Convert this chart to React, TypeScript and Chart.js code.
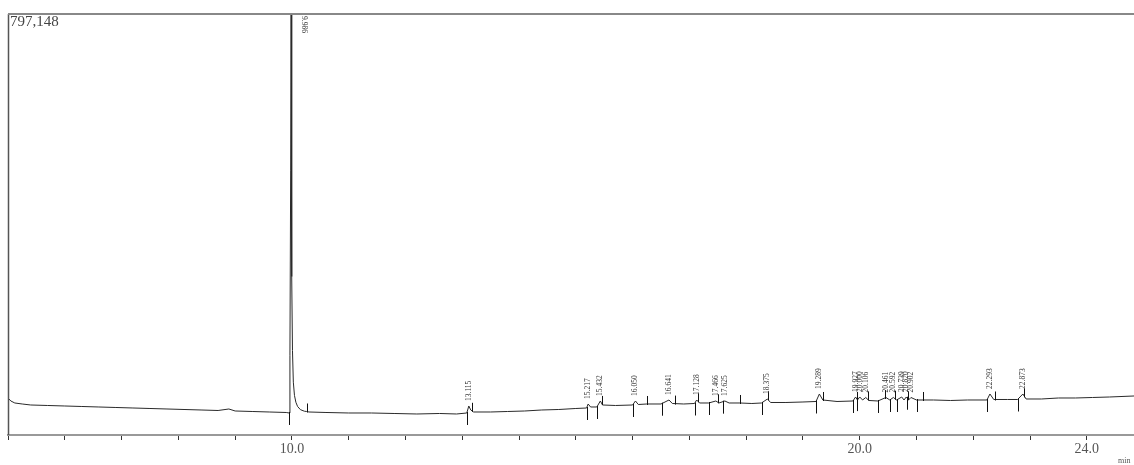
import React, { useEffect, useRef } from "react";
import { Chart, registerables } from "chart.js";

Chart.register(...registerables);

// retention time (min)
const TIME = [
  5.0, 5.05, 5.12, 5.25, 5.4, 5.7, 6.0, 6.3, 6.6, 6.9, 7.2, 7.5, 7.8, 8.1, 8.4, 8.7, 8.89, 9.0, 9.3, 9.6, 9.9, 9.95,
  9.965, 9.978, 9.986, 9.993, 10.0, 10.01, 10.025, 10.045, 10.07, 10.1, 10.15, 10.22, 10.26, 10.3, 10.6, 11.0, 11.4,
  11.8, 12.2, 12.6, 12.9, 13.08, 13.115, 13.15, 13.2, 13.5, 13.8, 14.1, 14.4, 14.7, 15.0, 15.19, 15.217, 15.26, 15.37,
  15.432, 15.47, 15.7, 16.0, 16.05, 16.1, 16.25, 16.5, 16.641, 16.7, 16.9, 17.09, 17.128, 17.18, 17.34, 17.466, 17.52,
  17.625, 17.7, 17.89, 18.1, 18.27, 18.375, 18.43, 18.7, 19.0, 19.23, 19.289, 19.35, 19.6, 19.88, 19.927, 19.96, 20.0,
  20.05, 20.106, 20.16, 20.32, 20.461, 20.53, 20.592, 20.65, 20.739, 20.78, 20.82, 20.86, 20.902, 21.0, 21.3, 21.6,
  21.9, 22.24, 22.293, 22.36, 22.6, 22.78, 22.873, 22.93, 23.2, 23.5, 23.8, 24.1, 24.4, 24.83,
];

// detector signal (uV)
const SIGNAL = [
  70060, 64379, 60592, 58698, 56805, 55858, 54911, 53965, 53018, 52071, 51124, 50178, 49231, 48284, 47337, 46391, 49231,
  45444, 44497, 43550, 42604, 41657, 150000, 500000, 797148, 560000, 300000, 160000, 100000, 75000, 62000, 54000, 48000,
  45000, 44500, 43550, 42604, 41657, 41657, 40710, 39763, 40710, 39763, 41657, 54911, 47337, 43550, 43550, 44497, 45444,
  47337, 48284, 50178, 51124, 58698, 53018, 53018, 64379, 56805, 55858, 56805, 64379, 57751, 58698, 58698, 66272, 59645,
  58698, 59645, 66272, 60592, 60592, 64379, 60592, 64379, 60592, 60592, 59645, 60592, 68166, 61538, 61538, 62485, 63432,
  77634, 66272, 63432, 64379, 71953, 66272, 71953, 66272, 71007, 65326, 64379, 71007, 66272, 71007, 66272, 71953, 66272,
  71953, 66272, 71007, 66272, 66272, 65326, 66272, 66272, 77634, 67219, 67219, 67219, 77634, 68166, 68166, 70060, 70060,
  71007, 71953, 73846,
];

const PEAK_TIMES = [
  9.986, 13.115, 15.217, 15.432, 16.05, 16.641, 17.128, 17.466, 17.625, 18.375, 19.289, 19.927, 20.0, 20.106, 20.461,
  20.592, 20.739, 20.82, 20.902, 22.293, 22.873,
];
const PEAK_LABELS = [
  "9.986", "13.115", "15.217", "15.432", "16.050", "16.641", "17.128", "17.466", "17.625", "18.375", "19.289", "19.927",
  "20.000", "20.106", "20.461", "20.592", "20.739", "20.820", "20.902", "22.293", "22.873",
];

// integration marks
const START_MARKS = [
  9.947, 13.08, 15.19, 15.37, 16.0, 16.51, 17.09, 17.34, 17.59, 18.27, 19.23, 19.88, 19.95, 20.32, 20.53, 20.65, 20.83,
  21.0, 22.24, 22.78,
];
const END_MARKS = [
  10.26, 13.17, 15.46, 16.25, 16.74, 17.15, 17.5, 17.89, 18.38, 19.35, 19.96, 20.14, 20.44, 20.62, 20.85, 21.11, 22.38,
  22.9,
];

const X_MIN = 5.0;
const X_MAX = 24.83;
const Y_MAX = 797148;
const X_LABELED = [10, 20, 24];
const Y_MAX_LABEL = "797,148";

function signalAt(t: number): number {
  for (let i = 0; i < TIME.length - 1; i++) {
    if (t >= TIME[i] && t <= TIME[i + 1]) {
      const f = (t - TIME[i]) / (TIME[i + 1] - TIME[i]);
      return SIGNAL[i] + f * (SIGNAL[i + 1] - SIGNAL[i]);
    }
  }
  return SIGNAL[SIGNAL.length - 1];
}

const annotatePlugin = {
  id: "annotate",
  afterDatasetsDraw(chart: any) {
    const { ctx, chartArea, scales } = chart;
    const xs = scales.x;
    const ys = scales.y;
    ctx.save();
    // frame: left and top lines
    ctx.strokeStyle = "#555";
    ctx.lineWidth = 1.5;
    ctx.beginPath();
    ctx.moveTo(chartArea.left + 0.5, chartArea.top);
    ctx.lineTo(chartArea.left + 0.5, chartArea.bottom);
    ctx.stroke();
    ctx.strokeStyle = "#888";
    ctx.lineWidth = 2;
    ctx.beginPath();
    ctx.moveTo(chartArea.left, chartArea.top);
    ctx.lineTo(chartArea.right, chartArea.top);
    ctx.stroke();

    // integration marks
    ctx.strokeStyle = "#111";
    ctx.lineWidth = 1;
    START_MARKS.forEach((t) => {
      const x = Math.round(xs.getPixelForValue(t)) + 0.5;
      const y = ys.getPixelForValue(signalAt(t));
      ctx.beginPath();
      ctx.moveTo(x, y - 1);
      ctx.lineTo(x, y + 12);
      ctx.stroke();
    });
    END_MARKS.forEach((t) => {
      const x = Math.round(xs.getPixelForValue(t)) + 0.5;
      const y = ys.getPixelForValue(signalAt(t));
      ctx.beginPath();
      ctx.moveTo(x, y - 8);
      ctx.lineTo(x, y + 1);
      ctx.stroke();
    });

    // peak labels
    ctx.fillStyle = "#333";
    ctx.font = "7.5px 'Liberation Serif', serif";
    ctx.textBaseline = "middle";
    PEAK_TIMES.forEach((t, i) => {
      let x = xs.getPixelForValue(t);
      let y = ys.getPixelForValue(signalAt(t)) - 5;
      const w = ctx.measureText(PEAK_LABELS[i]).width;
      ctx.save();
      if (y - w < chartArea.top + 2) {
        x = x + 13;
        ctx.translate(x, chartArea.top + 2);
        ctx.rotate(Math.PI / 2);
        ctx.textAlign = "left";
      } else {
        ctx.translate(x, y);
        ctx.rotate(-Math.PI / 2);
        ctx.textAlign = "left";
      }
      ctx.fillText(PEAK_LABELS[i], 0, 0);
      ctx.restore();
    });

    // max intensity label
    ctx.font = "15px 'Liberation Serif', serif";
    ctx.fillStyle = "#444";
    ctx.textAlign = "left";
    ctx.textBaseline = "top";
    ctx.fillText(Y_MAX_LABEL, chartArea.left + 2, chartArea.top + 1);

    // unit
    ctx.font = "8px 'Liberation Serif', serif";
    ctx.fillStyle = "#555";
    ctx.textBaseline = "alphabetic";
    ctx.fillText("min", chartArea.right - 16, chartArea.bottom + 28);
    ctx.restore();
  },
};

export default function App() {
  const ref = useRef<HTMLCanvasElement | null>(null);
  useEffect(() => {
    if (!ref.current) return;
    const points = TIME.map((t, i) => ({ x: t, y: SIGNAL[i] }));
    const chart = new Chart(ref.current, {
      type: "line",
      data: {
        datasets: [
          {
            data: points,
            borderColor: "#2a2a2a",
            borderWidth: 1,
            pointRadius: 0,
            tension: 0,
            fill: false,
          },
        ],
      },
      options: {
        animation: false,
        responsive: false,
        maintainAspectRatio: false,
        layout: { padding: { left: 8, top: 14, right: 0, bottom: 0 } },
        plugins: { legend: { display: false }, tooltip: { enabled: false } },
        scales: {
          x: {
            type: "linear",
            min: X_MIN,
            max: X_MAX,
            afterFit: (s: any) => {
              s.height = 30;
            },
            ticks: {
              stepSize: 1,
              autoSkip: false,
              includeBounds: false,
              maxRotation: 0,
              padding: 1,
              color: "#555",
              font: { family: "'Liberation Serif', serif", size: 14 },
              callback: (v: any) => (X_LABELED.includes(Number(v)) ? Number(v).toFixed(1) : ""),
            },
            grid: {
              drawOnChartArea: false,
              drawTicks: true,
              tickLength: 5,
              color: "#333",
            },
            border: { display: true, color: "#999", width: 2 },
          },
          y: {
            display: false,
            min: 0,
            max: Y_MAX,
          },
        },
      },
      plugins: [annotatePlugin],
    });
    return () => chart.destroy();
  }, []);
  return (
    <div style={{ position: "absolute", left: 0, top: 0, width: 1134, height: 465, background: "#fff" }}>
      <canvas ref={ref} width={1134} height={465} style={{ display: "block" }} />
    </div>
  );
}
